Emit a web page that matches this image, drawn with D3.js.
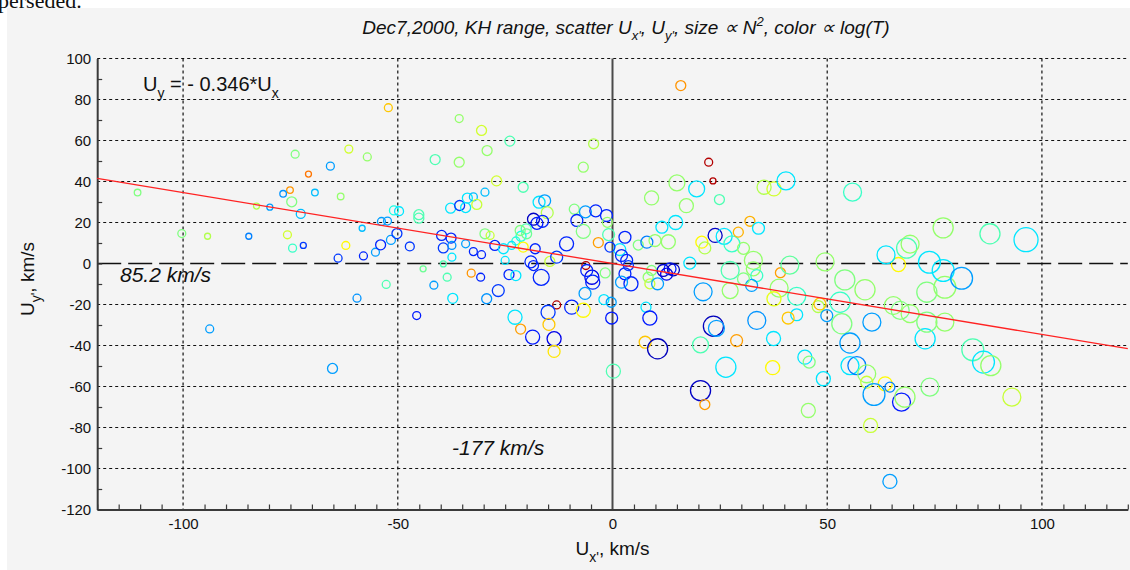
<!DOCTYPE html>
<html>
<head>
<meta charset="utf-8">
<script src="https://d3js.org/d3.v7.min.js"></script>
<style>
  body { margin: 0; background: #fff; }
  #chart { width: 1130px; height: 570px; }
  text { font-family: Arial, "Liberation Sans", sans-serif; fill: #111; }
</style>
</head>
<body>
<div id="chart"></div>
<script>
// velocity components, km/s
const ux = [
  -52.2, -73.9, -61.4, -57.1, -41.3, -65.7, -70.8, -75.1, -76.7, -69.3,
  -110.6, -63.3, -74.7, -72.6, -82.9, -79.8, -100.3, -94.3, -84.7, -75.7,
  -74.5, -72, -62.1, -63.9, -58, -55.2, -54, -51.6, -58.3, -53.8,
  -52.4, -50.2, -50.9, -49.7, -47.2, -45.1, -45.1, -44.1, -52.7, -41.6,
  -59.5, -45.6, -93.8, -65.2, 15.9, -35.7, -30.5, -23.9, -29.2, -35.7,
  -4.4, -6.8, 22.4, 23.4, -27, -20.8, -29.7, 15, 19.6, 9.1,
  24.9, 17.2, 35.3, 37.6, 40.4, -37.7, -35.6, -34.2, -33.8, -32.4,
  -31.6, -17.1, -15.8, -15.2, -18.4, -17.6, -16.3, -20.1, -21.3, -21.5,
  -20, -22.5, -8.9, -8.3, -6.3, -3.9, -1.4, -6.8, -0.9, -1.2,
  2.9, 1.7, 2.1, -3.3, -10.7, 6, 8, 11.5, 14.7, 13,
  23.9, 26, 20.8, 21.5, 27.8, 29.3, 32, 34, 30.5, 32.8,
  27.4, -39.8, -37.6, -39.4, -37.4, -37.4, -39.4, -34.2, -32.4, -30.5,
  -29.7, -28.5, -27.4, -25.4, -25, -23.5, -20.8, -18, -19, -18.4,
  -16.6, -14.6, -13, -6.2, -4.8, -6, -1.7, -4.6, -6.4, -2,
  -0.3, -0.2, -13, -15, -9.5, -6.8, -14.8, -22.7, -21.4, -18.6,
  -13.6, -13.6, -26.6, -29.3, -37.2, -38.5, -32.9, -30.7, -24.1, -22.5,
  0.2, 3.3, -0.6, 9.9, 2.9, 4.3, 2.1, 3.7, 8.3, 8.7,
  9.1, 11.8, 13.4, 14.2, 12.6, 10.5, 18, 21.1, 27.4, 32.8,
  33.6, 32.4, 39.1, 41.3, 38.8, 42.9, 37.6, 49.5, 47.9, 42.9,
  40.9, 33.6, 23.5, 24.2, 7.8, 8.7, 30.5, 7.6, 10.5, 20.5,
  28.9, 26.4, 37.5, 37.3, 20.5, 21.5, 48.3, 49.9, 53, 54.1,
  53.4, 58.8, 60.4, 55.3, 55.3, 56.9, 59.2, 59.2, 63.5, 64.6,
  60.9, 67.3, 68.1, 73.9, 60.1, 64.6, 45.6, 49.1, 44.8, 45.8,
  65.4, 67, 69.3, 72.8, 73.2, 77.4, 77, 73.8, 81.3, 73.2,
  77.4, 66.6, 83.9, 86.4, 88.1, 93, 55.9, 77, 87.9, 96.3,
  63.7, 68.5, 69.3
];
const uy = [
  76, 53.3, 55.8, 52, 50.7, 47.5, 43.6, 35.8, 34, 34.6,
  34.6, 32.7, 30.1, 24.2, 28, 27.5, 14.6, 13.3, 13.3, 14,
  7.5, 8.8, 8.8, 2.6, 3.7, 5.5, 9.1, 11.5, 17.2, 20.5,
  20.7, 14.6, 25.9, 25.5, 8.3, 23.8, 22.1, -2.6, -10.2, -10.6,
  -16.9, -25.4, -31.9, -51.2, 86.8, 70.7, 64.9, 59.7, 55.1, 49.4,
  58.4, 47, 49.4, 40.3, 40.3, 37.2, 34.8, 39.3, 36.4, 32,
  31.2, 28.2, 37.2, 36.4, 40.3, 27, 28.3, 27.3, 31.9, 32.5,
  28.8, 29.9, 30.6, 24.8, 21.6, 19.6, 20.6, 16.9, 13.3, 16.1,
  14.5, 11, 26.5, 21, 25.2, 25.7, 23.4, 15.7, 14.1, 20.1,
  12.8, 6.8, 3.9, 10.2, 9.6, 9, 10.4, 17.7, 20, 10.6,
  13.7, 13.2, 10.4, 7.6, 9.6, 15.3, 20.6, 17.2, 7.4, 1.5,
  -3.4, 13.7, 12.4, 7.6, 8.8, 3.1, -0.2, 9.6, 5.8, 4.3,
  14.5, 13.7, 8.8, 7.2, 1.5, 8.8, 8, 7.2, 0.8, -1,
  -6.8, 1, 3.1, -1, -6.7, -3.4, -4.6, -9.1, -14.6, -17.6,
  -18.9, -26.6, -20.2, -23.8, -21.3, -22.8, -29.7, -26.2, -32, -35.9,
  -36.7, -42.9, -13.2, -17.2, -17, -6.7, -4.7, -6.7, -5.4, -5.9,
  -52.5, 1.5, 8, 11.2, -5, -9.9, -9.1, -1, -6.7, -9.9,
  -3.4, -3.4, -2.6, -3.1, -5.2, -9.9, 0.2, -13.8, -13.2, -2.6,
  -5.9, -10.7, -4.5, -0.8, -12, -16, -17.2, 0.8, -21, -25,
  -26.6, -27.8, -30.6, -31.6, -21.3, -26.6, -7.5, -38.4, -41.6, -39.7,
  -37.6, -50.6, -36.6, -50.8, -62, -68.8, -19.7, -25.4, -18.9, -8,
  -29.4, -12.8, -28.6, -38.8, -49.8, -49.8, -53.8, -57.9, -58.7, -60.3,
  -63.9, -67.6, -65.2, -60.3, -79, -106.3, -71.7, -56.2, -45.7, -48.1,
  -20.5, -22.9, -24.5, -36.7, -14, -11.6, -3.4, 0.6, -7.2, -28.6,
  -28.6, -0.5, -42.1, -48.1, -49.8, -65.2, 34.8, 17.4, 14.5, 11.6,
  4.2, 7.5, 9.4
];
// density (relative), marker size goes as N^2
const dens = [
  1.15, 1.15, 1.15, 1.15, 1.29, 1.15, 1.00, 1.05, 1.05, 1.05,
  1.05, 1.05, 1.29, 1.22, 1.00, 1.00, 1.15, 1.00, 1.00, 1.15,
  1.15, 1.00, 1.15, 1.15, 1.15, 1.15, 1.29, 1.22, 1.00, 1.15,
  1.15, 1.29, 1.22, 1.22, 1.22, 1.29, 1.29, 1.00, 1.15, 1.15,
  1.15, 1.15, 1.15, 1.29, 1.29, 1.15, 1.29, 1.29, 1.29, 1.29,
  1.29, 1.29, 1.15, 1.00, 1.29, 1.29, 1.15, 1.63, 1.63, 1.53,
  1.29, 1.53, 1.53, 1.53, 1.73, 1.29, 1.29, 1.29, 1.29, 1.15,
  1.29, 1.41, 1.41, 1.41, 1.41, 1.41, 1.41, 1.29, 1.29, 1.29,
  1.29, 1.15, 1.29, 1.41, 1.41, 1.41, 1.41, 1.53, 1.41, 1.29,
  1.41, 1.41, 1.41, 1.29, 1.53, 1.29, 1.41, 1.41, 1.53, 1.53,
  1.53, 1.63, 1.41, 1.41, 1.63, 1.29, 1.29, 1.41, 1.41, 1.73,
  1.73, 1.29, 1.29, 1.29, 1.15, 1.15, 1.00, 1.15, 1.15, 1.15,
  1.29, 1.15, 1.29, 1.29, 1.15, 1.15, 1.29, 1.29, 1.41, 1.29,
  1.63, 1.29, 1.41, 1.15, 1.53, 1.41, 1.29, 1.53, 1.41, 1.29,
  1.29, 1.41, 1.15, 1.53, 1.53, 1.53, 1.41, 1.53, 1.29, 1.53,
  1.53, 1.41, 1.41, 1.29, 1.29, 1.15, 1.15, 1.15, 1.29, 1.29,
  1.53, 1.41, 1.29, 1.41, 1.41, 1.53, 1.41, 1.29, 1.29, 1.29,
  1.29, 1.41, 1.41, 1.41, 1.41, 1.41, 1.41, 1.73, 1.63, 1.53,
  1.41, 1.41, 1.29, 1.73, 1.73, 1.73, 1.53, 1.73, 1.41, 1.41,
  1.41, 1.73, 1.83, 1.63, 1.29, 1.53, 1.41, 1.41, 1.83, 1.63,
  1.41, 1.83, 1.53, 1.53, 1.83, 1.29, 1.41, 1.41, 1.83, 1.83,
  1.83, 1.83, 1.73, 1.83, 1.73, 1.73, 1.73, 1.41, 1.53, 1.29,
  1.91, 1.73, 1.83, 1.73, 1.53, 1.53, 1.53, 1.53, 1.53, 1.41,
  1.73, 1.73, 1.73, 1.83, 1.83, 1.91, 1.91, 1.91, 1.91, 1.83,
  1.73, 1.53, 1.91, 1.91, 1.83, 1.73, 1.73, 1.83, 1.83, 2.00,
  1.73, 1.83, 1.73
];
// log of temperature, colour goes as log(T)
const logT = [
  2.68, 2.50, 2.58, 2.52, 2.45, 2.28, 2.76, 2.73, 2.27, 2.31,
  2.50, 2.52, 2.50, 2.31, 2.55, 2.28, 2.50, 2.55, 2.25, 2.58,
  2.43, 2.18, 2.63, 2.18, 2.16, 2.28, 2.16, 2.28, 2.31, 2.28,
  2.28, 2.18, 2.40, 2.35, 2.18, 2.45, 2.45, 2.48, 2.45, 2.28,
  2.27, 2.15, 2.28, 2.28, 2.73, 2.52, 2.58, 2.45, 2.52, 2.52,
  2.55, 2.52, 2.95, 2.95, 2.58, 2.45, 2.31, 2.52, 2.35, 2.52,
  2.45, 2.52, 2.55, 2.58, 2.35, 2.35, 2.18, 2.35, 2.35, 2.31,
  2.57, 2.35, 2.28, 2.55, 2.06, 2.15, 2.16, 2.45, 2.40, 2.50,
  2.48, 2.42, 2.50, 2.16, 2.28, 2.16, 2.16, 2.50, 2.45, 2.52,
  2.16, 2.35, 2.16, 2.72, 2.16, 2.50, 2.25, 2.35, 2.35, 2.52,
  2.06, 2.35, 2.63, 2.55, 2.43, 2.70, 2.70, 2.35, 2.52, 2.52,
  2.45, 2.16, 2.16, 2.18, 2.27, 2.35, 2.45, 2.28, 2.16, 2.16,
  2.50, 2.57, 2.16, 2.35, 2.35, 2.35, 2.63, 2.16, 2.16, 2.16,
  2.16, 2.57, 2.18, 2.95, 2.10, 2.16, 2.50, 2.16, 2.28, 2.35,
  2.28, 2.15, 2.95, 2.18, 2.16, 2.63, 2.68, 2.35, 2.72, 2.15,
  2.10, 2.65, 2.18, 2.27, 2.35, 2.45, 2.73, 2.16, 2.16, 2.35,
  2.45, 2.16, 2.18, 2.52, 2.16, 2.16, 2.28, 2.18, 2.52, 2.57,
  2.50, 2.06, 2.15, 2.05, 2.10, 2.28, 2.35, 2.28, 2.52, 2.52,
  2.43, 2.28, 2.72, 2.47, 2.52, 2.43, 2.60, 2.52, 2.55, 2.35,
  2.68, 2.27, 2.05, 2.28, 2.35, 2.15, 2.50, 2.68, 2.05, 2.45,
  2.72, 2.35, 2.35, 2.63, 2.06, 2.72, 2.68, 2.28, 2.43, 2.50,
  2.50, 2.52, 2.28, 2.28, 2.35, 2.25, 2.52, 2.57, 2.63, 2.25,
  2.28, 2.15, 2.52, 2.50, 2.57, 2.28, 2.52, 2.35, 2.35, 2.50,
  2.52, 2.50, 2.52, 2.35, 2.50, 2.52, 2.35, 2.35, 2.28, 2.50,
  2.52, 2.63, 2.45, 2.35, 2.52, 2.57, 2.43, 2.52, 2.45, 2.35,
  2.35, 2.45, 2.52
];

const fitSlope = -0.346;
const fitRange = [-120, 120];
const xMinorTicks = d3.range(-120, 121, 5);
const xLabelTicks = [-100, -50, 0, 50, 100];
const yMinorTicks = d3.range(-120, 101, 10);
const yLabelTicks = [-120, -100, -80, -60, -40, -20, 0, 20, 40, 60, 80, 100];

let svg, xScale, yScale;

function initChart() {
    let margin = { top: 58.5, right: 2.2, bottom: 60.5, left: 97.2 },
        fullWidth = 1130, fullHeight = 570,
        width = fullWidth - margin.left - margin.right,
        height = fullHeight - margin.top - margin.bottom;

    let root = d3.select("#chart").append("svg")
        .attr("width", fullWidth)
        .attr("height", fullHeight);

    // leftover line of the surrounding page, cut by the figure
    root.append("text")
        .attr("x", -2).attr("y", 8)
        .style("font-family", "'Liberation Serif', 'Times New Roman', serif")
        .style("font-size", "22px")
        .text("perseded.");

    root.append("rect")
        .attr("x", 7).attr("y", 8)
        .attr("width", fullWidth - 7).attr("height", fullHeight - 8)
        .attr("fill", "#f4f4f4");

    svg = root.append("g")
        .attr("transform", "translate(" + margin.left + "," + margin.top + ")");

    xScale = d3.scaleLinear().domain([-120, 120]).range([0, width]);
    yScale = d3.scaleLinear().domain([-120, 100]).range([height, 0]);

    // Grid
    svg.selectAll(".vgrid")
        .data(xLabelTicks.filter(d => d !== 0))
        .enter().append("line")
        .attr("x1", d => xScale(d)).attr("x2", d => xScale(d))
        .attr("y1", 0).attr("y2", height)
        .attr("stroke", "#111").attr("stroke-width", 1.2)
        .attr("stroke-dasharray", "3,3");

    svg.selectAll(".hgrid")
        .data(yLabelTicks.filter(d => d !== 0 && d !== -120))
        .enter().append("line")
        .attr("x1", 0).attr("x2", width)
        .attr("y1", d => yScale(d)).attr("y2", d => yScale(d))
        .attr("stroke", "#111").attr("stroke-width", 1.2)
        .attr("stroke-dasharray", "3,3");

    // zero lines
    svg.append("line")
        .attr("x1", xScale(0)).attr("x2", xScale(0))
        .attr("y1", 0).attr("y2", height)
        .attr("stroke", "#4a4a4a").attr("stroke-width", 2);

    svg.append("line")
        .attr("x1", 0).attr("x2", width)
        .attr("y1", yScale(0)).attr("y2", yScale(0))
        .attr("stroke", "#111").attr("stroke-width", 1.5)
        .attr("stroke-dasharray", "24,7");

    // Axes
    let xAxis = svg.append("g")
        .attr("transform", "translate(0," + height + ")")
        .call(d3.axisBottom(xScale)
            .tickValues(xMinorTicks)
            .tickSize(-5).tickSizeOuter(0).tickPadding(9)
            .tickFormat(d => xLabelTicks.includes(d) ? d : ""));

    let yAxis = svg.append("g")
        .call(d3.axisLeft(yScale)
            .tickValues(yMinorTicks)
            .tickSize(-5).tickSizeOuter(0).tickPadding(6)
            .tickFormat(d => yLabelTicks.includes(d) ? d : ""));

    [xAxis, yAxis].forEach(ax => {
        ax.select(".domain").attr("stroke", "#3a3a3a").attr("stroke-width", 2);
        ax.selectAll(".tick line").attr("stroke", "#3a3a3a").attr("stroke-width", 1.2);
        ax.selectAll(".tick text")
            .style("font-family", "Arial, 'Liberation Sans', sans-serif")
            .style("font-size", "15px").attr("fill", "#111");
    });
    // grid lines take the place of the major ticks
    yAxis.selectAll(".tick line").filter(d => yLabelTicks.includes(d) && d !== -120 && d !== 0).remove();
    xAxis.selectAll(".tick line").filter(d => xLabelTicks.includes(d)).remove();

    // Title
    let title = root.append("text")
        .attr("x", 626).attr("y", 34)
        .attr("text-anchor", "middle")
        .style("font-style", "italic")
        .style("font-size", "19px");
    title.append("tspan").text("Dec7,2000, KH range, scatter U");
    title.append("tspan").attr("dy", 6).style("font-size", "13px").text("x'");
    title.append("tspan").attr("dy", -6).text(", U");
    title.append("tspan").attr("dy", 6).style("font-size", "13px").text("y'");
    title.append("tspan").attr("dy", -6).text(", size \u221D N");
    title.append("tspan").attr("dy", -8).style("font-size", "13px").text("2");
    title.append("tspan").attr("dy", 8).text(", color \u221D log(T)");

    // Axis labels
    let xl = root.append("text")
        .attr("x", margin.left + xScale(0)).attr("y", 555)
        .attr("text-anchor", "middle")
        .style("font-size", "19px");
    xl.append("tspan").text("U");
    xl.append("tspan").attr("dy", 7).style("font-size", "14px").text("x'");
    xl.append("tspan").attr("dy", -7).text(", km/s");

    let yl = root.append("text")
        .attr("transform", "translate(34,279) rotate(-90)")
        .attr("text-anchor", "middle")
        .style("font-size", "19px");
    yl.append("tspan").text("U");
    yl.append("tspan").attr("dy", 7).style("font-size", "14px").text("y'");
    yl.append("tspan").attr("dy", -7).text(", km/s");
}

function drawPoints() {
    let jet = d3.scaleLinear()
        .domain([0, 0.125, 0.375, 0.625, 0.875, 1])
        .range(["#00008f", "#0000ff", "#00ffff", "#ffff00", "#ff0000", "#800000"]);
    let tScale = d3.scaleLinear().domain([2, 3]).range([0, 1]);
    let rScale = d3.scaleLinear().domain([0, 4]).range([0, 12]);

    let points = ux.map((x, i) => ({ x: x, y: uy[i], n: dens[i], t: logT[i] }));

    svg.selectAll(".pt")
        .data(points)
        .enter().append("circle")
        .attr("class", "pt")
        .attr("cx", d => xScale(d.x))
        .attr("cy", d => yScale(d.y))
        .attr("r", d => rScale(d.n * d.n))
        .attr("fill", "none")
        .attr("stroke", d => jet(tScale(d.t)))
        .attr("stroke-width", 1.3);

    // linear fit Uy = -0.346 Ux
    svg.append("path")
        .datum(fitRange)
        .attr("fill", "none")
        .attr("stroke", "#ff2222")
        .attr("stroke-width", 1.3)
        .attr("d", d3.line()
            .x(d => xScale(d))
            .y(d => yScale(fitSlope * d)));
}

function drawNotes() {
    let eq = svg.append("text")
        .attr("x", 143 - 97.2).attr("y", 91 - 58.5)
        .style("font-size", "20px");
    eq.append("tspan").text("U");
    eq.append("tspan").attr("dy", 7).style("font-size", "14px").text("y");
    eq.append("tspan").attr("dy", -7).text(" = - 0.346*U");
    eq.append("tspan").attr("dy", 7).style("font-size", "14px").text("x");

    svg.append("text")
        .attr("x", 120 - 97.2).attr("y", yScale(0) + 18)
        .style("font-size", "21px").style("font-style", "italic")
        .text("85.2 km/s");

    svg.append("text")
        .attr("x", 452 - 97.2).attr("y", yScale(-90) + 7)
        .style("font-size", "21px").style("font-style", "italic")
        .text("-177 km/s");
}

initChart();
drawPoints();
drawNotes();
</script>
</body>
</html>
